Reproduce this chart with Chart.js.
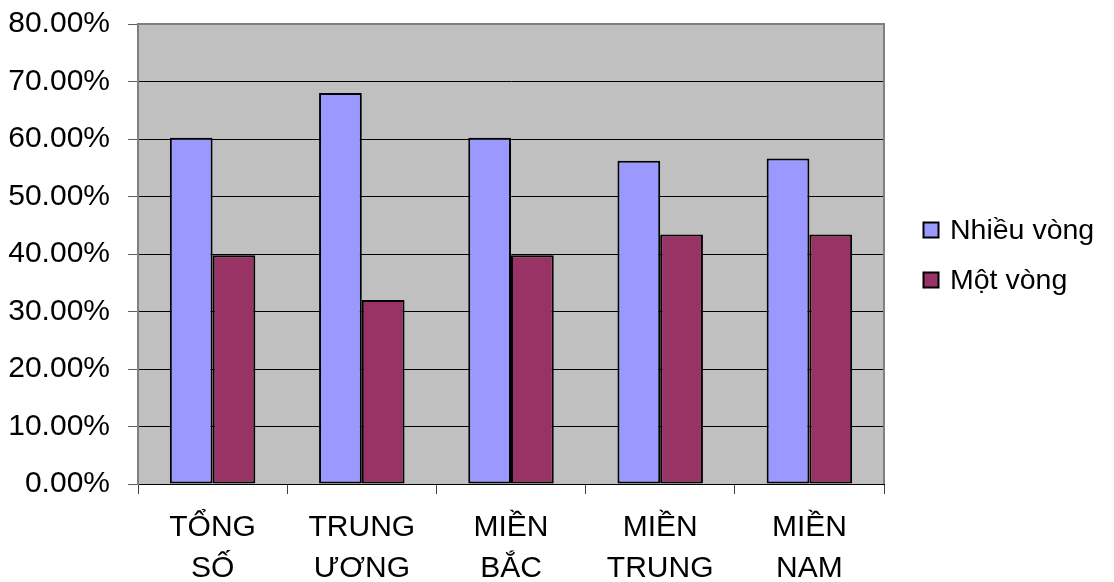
<!DOCTYPE html>
<html>
<head>
<meta charset="utf-8">
<script src="https://cdn.jsdelivr.net/npm/chart.js@4"></script>
<style>
  html, body { margin: 0; padding: 0; background: #ffffff; }
  #wrap { width: 1114px; height: 582px; }
</style>
</head>
<body>
<div id="wrap"><canvas id="c" width="1114" height="582"></canvas></div>
<script>
// Categories (two-line labels) and series values in percent
const categories = [
  ['TỔNG', 'SỐ'],
  ['TRUNG', 'ƯƠNG'],
  ['MIỀN', 'BẮC'],
  ['MIỀN', 'TRUNG'],
  ['MIỀN', 'NAM']
];
const seriesNames = ['Nhiều vòng', 'Một vòng'];
const nhieuVong = [60.2, 68.0, 60.2, 56.2, 56.6];
const motVong = [39.8, 32.0, 39.8, 43.4, 43.4];
const yTicks = [0, 10, 20, 30, 40, 50, 60, 70, 80];

const FONT = '"Liberation Sans", Arial, sans-serif';
const colors = ['#9999FF', '#993366'];

// Gray plot area with a gray frame
const plotBackground = {
  id: 'plotBackground',
  beforeDraw(chart) {
    const { ctx, chartArea: a } = chart;
    ctx.save();
    ctx.fillStyle = '#C0C0C0';
    ctx.fillRect(a.left, a.top, a.right - a.left, a.bottom - a.top);
    ctx.restore();
  },
  afterDatasetsDraw(chart) {
    const { ctx, chartArea: a } = chart;
    ctx.save();
    ctx.strokeStyle = '#808080';
    ctx.lineWidth = 2;
    ctx.beginPath();
    ctx.moveTo(a.left, a.top);
    ctx.lineTo(a.right, a.top);
    ctx.lineTo(a.right, a.bottom);
    ctx.stroke();
    ctx.restore();
  }
};

// Legend on the right, vertically centred on the plot
const sideLegend = {
  id: 'sideLegend',
  afterDraw(chart) {
    const { ctx, chartArea: a } = chart;
    const sets = chart.data.datasets;
    const gap = 50;
    const cy = (a.top + a.bottom) / 2 - gap * (sets.length - 1) / 2 + 1;
    ctx.save();
    ctx.font = '28.5px ' + FONT;
    ctx.textBaseline = 'middle';
    ctx.textAlign = 'left';
    sets.forEach((ds, i) => {
      const y = cy + i * gap;
      const bx = a.right + 39.5;
      ctx.fillStyle = ds.backgroundColor;
      ctx.fillRect(bx, y - 7.5, 15, 15);
      ctx.strokeStyle = '#000000';
      ctx.lineWidth = 2;
      ctx.strokeRect(bx, y - 7.5, 15, 15);
      ctx.fillStyle = '#000000';
      ctx.fillText(ds.label, a.right + 66, y + 1);
    });
    ctx.restore();
  }
};

new Chart(document.getElementById('c'), {
  type: 'bar',
  data: {
    labels: categories,
    datasets: [
      { label: seriesNames[0], data: nhieuVong, backgroundColor: colors[0] },
      { label: seriesNames[1], data: motVong, backgroundColor: colors[1] }
    ]
  },
  options: {
    responsive: false,
    animation: false,
    devicePixelRatio: 1,
    layout: { padding: { left: 0, top: 24, right: 230, bottom: 0 } },
    datasets: {
      bar: {
        borderColor: '#000000',
        borderWidth: 2,
        borderSkipped: false,
        barPercentage: 1,
        categoryPercentage: 0.573
      }
    },
    plugins: {
      legend: { display: false },
      tooltip: { enabled: false }
    },
    scales: {
      x: {
        grid: {
          display: true,
          drawOnChartArea: false,
          drawTicks: true,
          tickLength: 10,
          tickColor: '#404040',
          tickWidth: 1
        },
        border: { color: '#000000', width: 1 },
        ticks: {
          color: '#000000',
          font: { family: FONT, size: 30, lineHeight: 1.34 },
          padding: 14,
          maxRotation: 0,
          autoSkip: false
        },
        afterFit(scale) {
          scale.height = 98;
          scale.paddingLeft = 0;
          scale.paddingRight = 0;
        }
      },
      y: {
        min: 0,
        max: 80,
        afterBuildTicks(scale) { scale.ticks = yTicks.map(v => ({ value: v })); },
        grid: {
          color: '#000000',
          lineWidth: 1,
          drawTicks: true,
          tickLength: 10,
          tickColor: '#606060'
        },
        border: { color: '#808080', width: 2 },
        ticks: {
          color: '#000000',
          font: { family: FONT, size: 30 },
          padding: 18,
          callback: v => v.toFixed(2) + '%'
        },
        afterFit(scale) {
          scale.width = 138;
          scale.paddingTop = 0;
          scale.paddingBottom = 0;
        }
      }
    }
  },
  plugins: [plotBackground, sideLegend]
});
</script>
</body>
</html>
